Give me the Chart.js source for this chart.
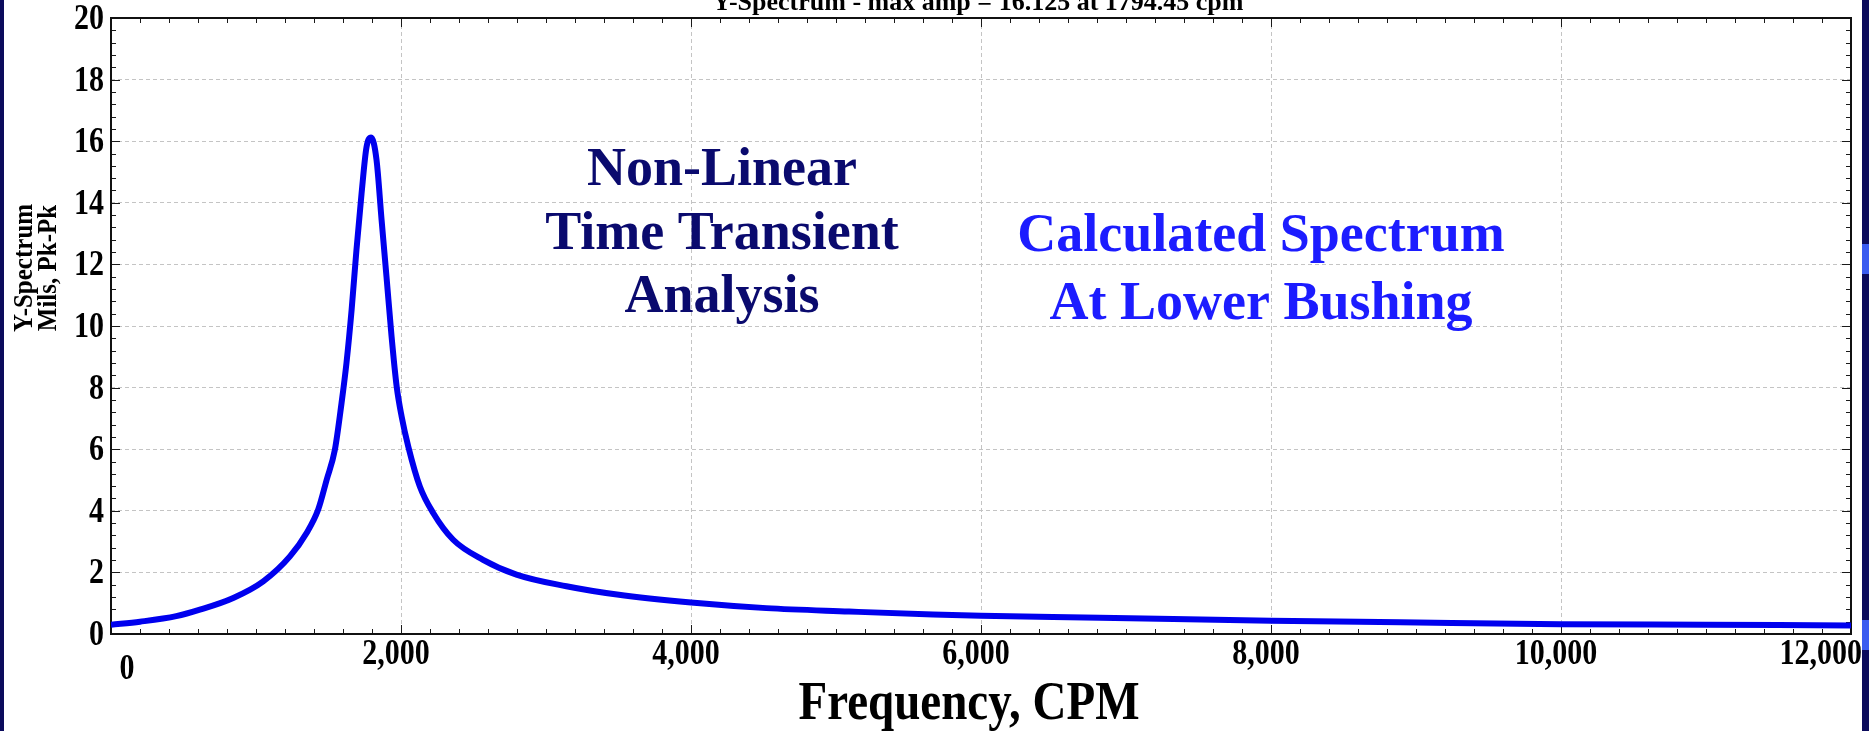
<!DOCTYPE html>
<html>
<head>
<meta charset="utf-8">
<script src="https://cdn.jsdelivr.net/npm/chart.js@4/dist/chart.umd.min.js"></script>
<style>
  html, body { margin: 0; padding: 0; background: #0b0b5c; overflow: hidden; }
  #paper { position: absolute; left: 4px; top: 0; width: 1858px; height: 731px; background: #fff; }
  .blob { position: absolute; left: 1862px; width: 7px; background: #3a5cf0; }
  #box { position: absolute; left: 0; top: 0; width: 1869px; height: 731px; }
</style>
</head>
<body>
<div id="paper"></div>
<div class="blob" style="top:244px;height:30px"></div>
<div class="blob" style="top:620px;height:30px"></div>
<div id="box"><canvas id="spectrumChart"></canvas></div>
<script>
// spectrum (CPM vs Mils Pk-Pk)
const freq = [0, 200, 450, 613, 843, 1050, 1234, 1349, 1429, 1487, 1544, 1590, 1624, 1659, 1693, 1728,
              1762, 1794, 1831, 1866, 1900, 1935, 1970, 2004, 2050, 2130, 2222, 2360, 2566, 2796, 3141,
              3490, 4000, 4520, 5090, 5670, 6000, 6820, 8000, 8890, 10000, 11000, 12000];
const amp  = [0.30, 0.40, 0.58, 0.79, 1.17, 1.71, 2.52, 3.28, 4.04, 5.0, 5.98, 7.5, 8.8, 10.5, 12.48, 14.3,
              15.8, 16.12, 15.4, 13.45, 11.6, 9.66, 8.04, 7.07, 6.09, 4.79, 3.93, 3.06, 2.41, 1.93, 1.55,
              1.28, 1.02, 0.84, 0.73, 0.63, 0.59, 0.53, 0.43, 0.38, 0.32, 0.30, 0.28];

const xTicks = [0, 2000, 4000, 6000, 8000, 10000, 12000];
const xLabels = ['0', '2,000', '4,000', '6,000', '8,000', '10,000', '12,000'];
const yTicks = [0, 2, 4, 6, 8, 10, 12, 14, 16, 18, 20];
const yLabels = ['0', '2', '4', '6', '8', '10', '12', '14', '16', '18', '20'];

const chartTitle = 'Y-Spectrum - max amp = 16.125 at 1794.45 cpm';
const xTitle = 'Frequency, CPM';
const yTitle = ['Y-Spectrum', 'Mils, Pk-Pk'];
const noteLeft = ['Non-Linear', 'Time Transient', 'Analysis'];
const noteRight = ['Calculated Spectrum', 'At Lower Bushing'];

const SERIF = '"Liberation Serif", "Times New Roman", serif';

function text(ctx, str, x, y, size, opts = {}) {
    ctx.save();
    ctx.translate(x, y);
    if (opts.rotate) ctx.rotate(opts.rotate);
    ctx.scale(1, opts.stretch || 1);
    ctx.font = `bold ${size}px ${SERIF}`;
    ctx.fillStyle = opts.color || '#000';
    ctx.textAlign = opts.align || 'center';
    ctx.textBaseline = 'alphabetic';
    ctx.fillText(str, 0, 0);
    ctx.restore();
}

// box around the plot plus the small inward ticks
const framePlugin = {
    id: 'frame',
    beforeDatasetsDraw(chart) {
        const { ctx, chartArea: a, scales: { x, y } } = chart;
        ctx.save();
        ctx.strokeStyle = '#1a1a1a';
        ctx.lineWidth = 1;
        ctx.beginPath();
        for (let i = 0; i <= 60; i++) {
            const px = Math.round(x.getPixelForValue(i * 200)) + 0.5;
            const len = i % 10 === 0 ? 9 : 5;
            ctx.moveTo(px, a.bottom); ctx.lineTo(px, a.bottom - len);
            ctx.moveTo(px, a.top); ctx.lineTo(px, a.top + len);
        }
        for (let i = 0; i <= 50; i++) {
            const py = Math.round(y.getPixelForValue(i * 0.4)) + 0.5;
            const len = i % 5 === 0 ? 9 : 5;
            ctx.moveTo(a.left, py); ctx.lineTo(a.left + len, py);
            ctx.moveTo(a.right, py); ctx.lineTo(a.right - len, py);
        }
        ctx.stroke();
        ctx.lineWidth = 2;
        ctx.strokeStyle = '#111';
        ctx.strokeRect(a.left, a.top, a.right - a.left, a.bottom - a.top);
        ctx.restore();
    }
};

const labelPlugin = {
    id: 'labels',
    afterDraw(chart) {
        const { ctx, chartArea: a, scales: { x, y } } = chart;
        const mid = (a.left + a.right) / 2;

        text(ctx, chartTitle, mid - 3, 10, 26);

        xTicks.forEach((v, i) => {
            const px = x.getPixelForValue(v);
            if (i === 0) text(ctx, xLabels[i], px + 16, 679, 30, { stretch: 1.2 });
            else if (i === xTicks.length - 1) text(ctx, xLabels[i], 1862, 664, 30, { stretch: 1.2, align: 'right' });
            else text(ctx, xLabels[i], px - 5, 664, 30, { stretch: 1.2 });
        });
        yTicks.forEach((v, i) => {
            const py = y.getPixelForValue(v);
            text(ctx, yLabels[i], a.left - 7, py + 11, 30, { stretch: 1.2, align: 'right' });
        });

        text(ctx, xTitle, mid - 12, 719, 47, { stretch: 1.18 });
        text(ctx, yTitle[0], 32, 268, 25, { rotate: -Math.PI / 2, stretch: 1.08 });
        text(ctx, yTitle[1], 56, 268, 25, { rotate: -Math.PI / 2, stretch: 1.08 });

        noteLeft.forEach((s, i) => text(ctx, s, 722, 185 + i * 63.6, 54, { color: '#0a0a6e' }));
        noteRight.forEach((s, i) => text(ctx, s, 1261, 251 + i * 68, 54, { color: '#1c1cff' }));
    }
};

const ctx = document.getElementById('spectrumChart').getContext('2d');

new Chart(ctx, {
    type: 'line',
    data: {
        datasets: [{
            data: freq.map((f, i) => ({ x: f, y: amp[i] })),
            borderColor: '#0000ee',
            borderWidth: 6,
            pointRadius: 0,
            cubicInterpolationMode: 'monotone',
            fill: false
        }]
    },
    options: {
        responsive: true,
        maintainAspectRatio: false,
        animation: false,
        layout: { padding: { left: 111, right: 18, top: 18, bottom: 97 } },
        plugins: { legend: { display: false }, tooltip: { enabled: false } },
        scales: {
            x: {
                type: 'linear', min: 0, max: 12000,
                afterBuildTicks: s => { s.ticks = xTicks.map(v => ({ value: v })); },
                ticks: { display: false },
                grid: { color: '#c4c4c4', lineWidth: 1, drawTicks: false },
                border: { display: false, dash: [4, 3] }
            },
            y: {
                min: 0, max: 20,
                afterBuildTicks: s => { s.ticks = yTicks.map(v => ({ value: v })); },
                ticks: { display: false },
                grid: { color: '#c4c4c4', lineWidth: 1, drawTicks: false },
                border: { display: false, dash: [4, 3] }
            }
        }
    },
    plugins: [framePlugin, labelPlugin]
});
</script>
</body>
</html>
